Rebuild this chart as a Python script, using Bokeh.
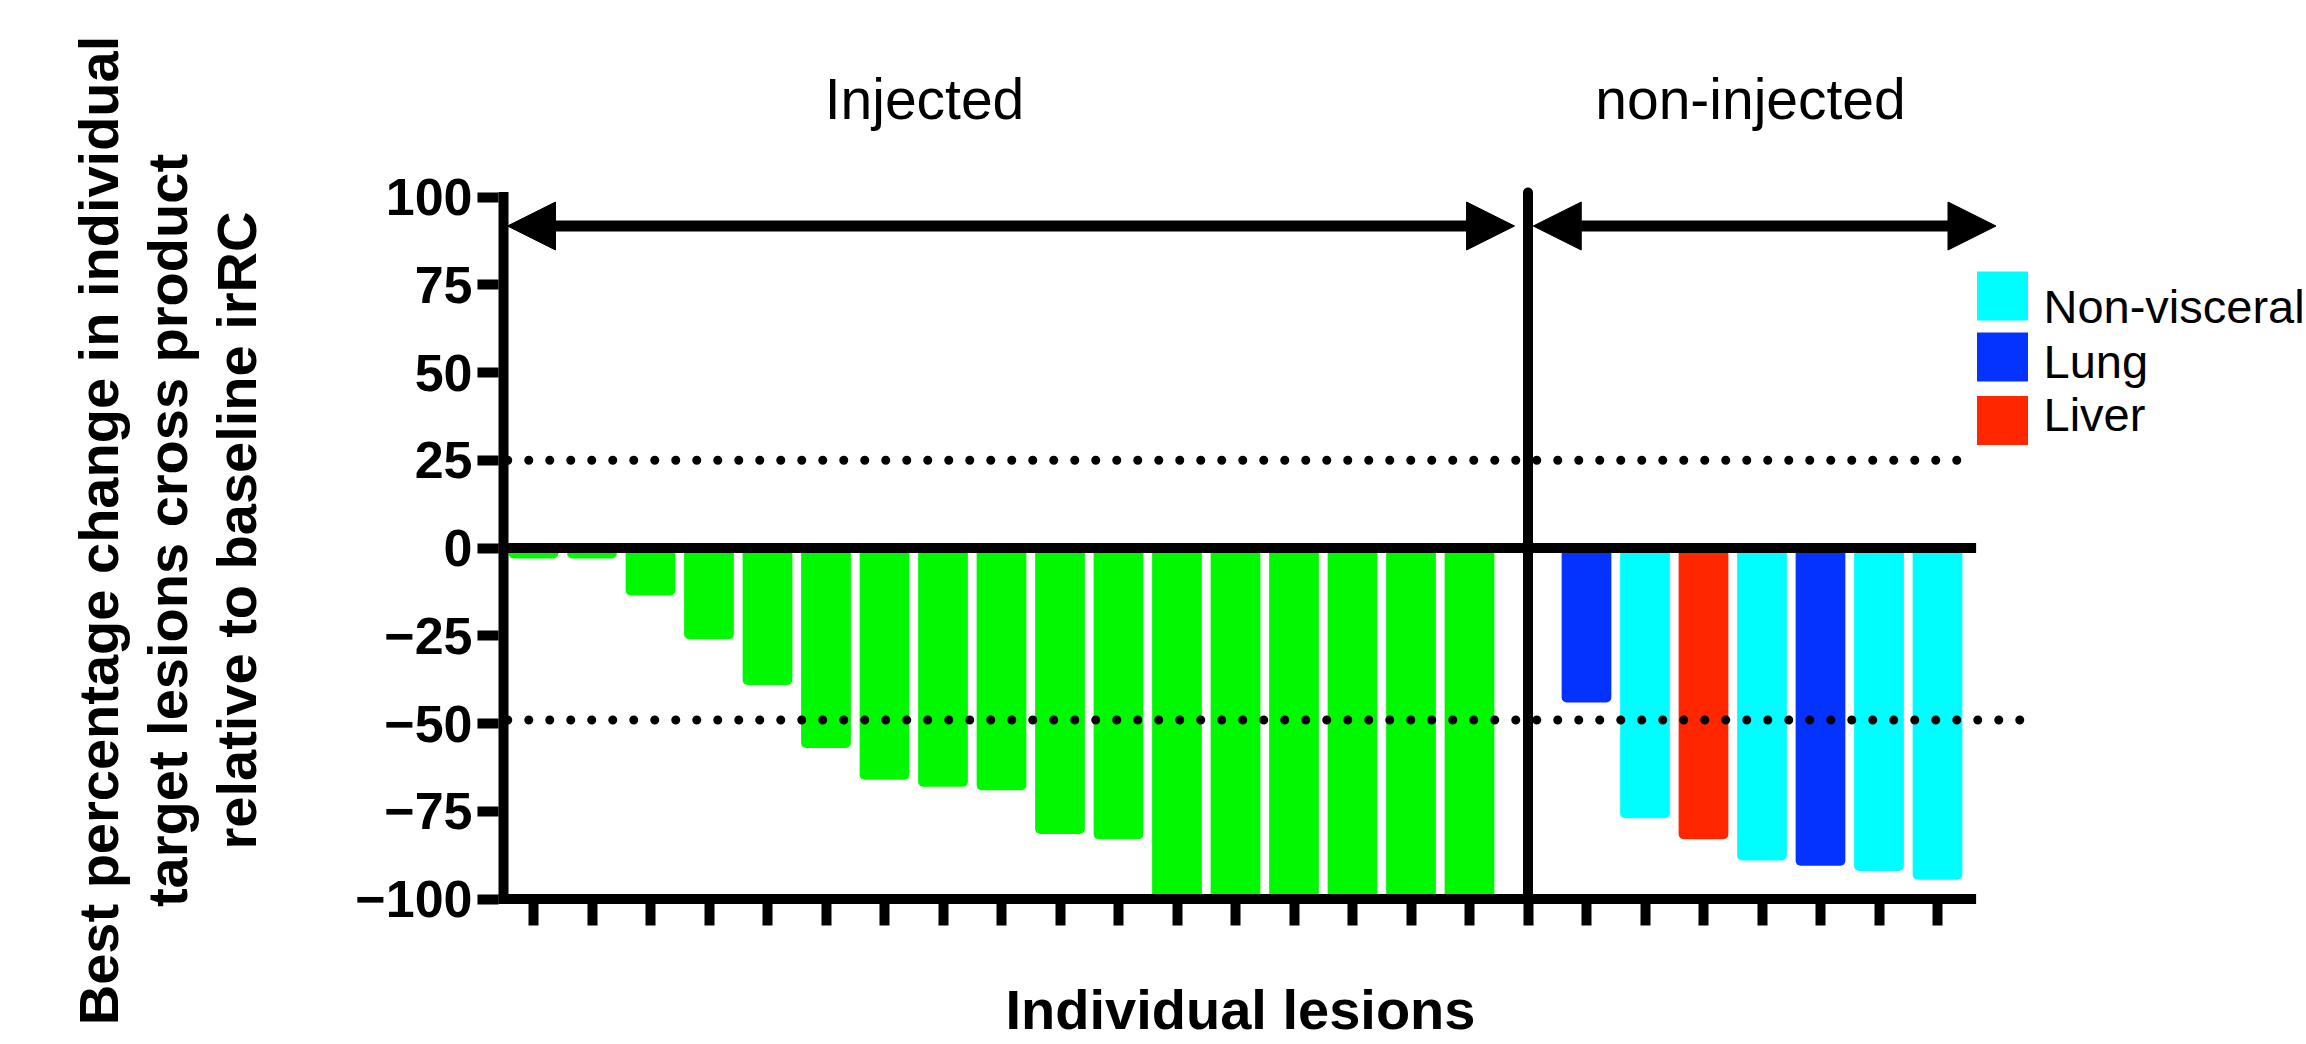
import math
from bokeh.plotting import figure
from bokeh.models import Range1d, FixedTicker, Arrow, NormalHead
from bokeh.core.properties import value
from bokeh.embed import file_html
from bokeh.resources import INLINE

# ---------------- data ----------------
injected_values = [-3, -3, -13.5, -26, -39, -57, -66, -68, -69, -81.5, -83,
                   -100, -100, -100, -100, -100, -100]
noninjected_values = [-44, -77, -83, -89, -90.5, -92, -94.5]
noninjected_sites = ["Lung", "Non-visceral", "Liver", "Non-visceral", "Lung",
                     "Non-visceral", "Non-visceral"]
site_names = ["Non-visceral", "Lung", "Liver"]
site_colors = ["#00FDFF", "#0433FF", "#FF2600"]
injected_color = "#00F900"
y_ticks = [-100, -75, -50, -25, 0, 25, 50, 75, 100]
ref_lines = [25, -49]
ref_line_ends = [25.35, 26.45]
group_labels = ["Injected", "non-injected"]
x_label = "Individual lesions"
y_label_lines = ["Best percentage change in individual",
                 "target lesions cross product",
                 "relative to baseline irRC"]

# ---------------- layout (pixel geometry of the page) ----------------
W, H = 2306, 1044
PX_X, PX_Y = 58.5, 3.51          # pixels per data unit
X1_PX, Y0_PX = 533, 547.5         # pixel of lesion 1 / of value 0


def dx(px):
    return 1 + (px - X1_PX) / PX_X


def dy(px):
    return (Y0_PX - px) / PX_Y


BASE_FIX = 0.335                  # baseline correction, fraction of font size

x_range = Range1d(dx(0), dx(W))
y_range = Range1d(dy(H), dy(0))

inj_x = list(range(1, len(injected_values) + 1))
divider_x = len(injected_values) + 1
non_x = list(range(divider_x + 1, divider_x + 1 + len(noninjected_values)))
non_colors = [site_colors[site_names.index(s)] for s in noninjected_sites]
last_x = non_x[-1]

p = figure(width=W, height=H, x_range=x_range, y_range=y_range, title=None,
           output_backend="svg", toolbar_location=None,
           min_border_left=0, min_border_right=0, min_border_top=0,
           min_border_bottom=0)
p.xgrid.visible = False
p.ygrid.visible = False
p.outline_line_color = None
p.background_fill_color = "white"
p.border_fill_color = "white"

FONT = "Liberation Sans"

# y axis: ticks and labels from the library, pinned at the axis line edge
p.yaxis.fixed_location = dx(498)
p.yaxis.ticker = FixedTicker(ticks=y_ticks)
p.yaxis.axis_line_color = None
p.yaxis.major_tick_in = 0
p.yaxis.major_tick_out = 21
p.yaxis.major_tick_line_width = 10
p.yaxis.minor_tick_line_color = None
p.yaxis.major_label_text_font = FONT
p.yaxis.major_label_text_font_style = "bold"
p.yaxis.major_label_text_font_size = "52px"
p.yaxis.major_label_text_color = "black"
p.yaxis.major_label_standoff = 5

# x axis: ticks only
p.xaxis.fixed_location = dy(903)
p.xaxis.ticker = FixedTicker(ticks=list(range(1, last_x + 1)))
p.xaxis.major_label_overrides = {i: "" for i in range(1, last_x + 1)}
p.xaxis.major_label_text_font_size = "0px"
p.xaxis.axis_line_color = None
p.xaxis.major_tick_in = 0
p.xaxis.major_tick_out = 22
p.xaxis.major_tick_line_width = 10
p.xaxis.minor_tick_line_color = None

# bars
BW = 0.85
p.vbar(x=inj_x, top=0, bottom=injected_values, width=BW,
       fill_color=injected_color, line_color=None, border_radius=(0, 0, 5, 5))
p.vbar(x=non_x, top=0, bottom=noninjected_values, width=BW,
       fill_color=non_colors, line_color=None, border_radius=(0, 0, 5, 5))

# dotted reference lines
p.segment(x0=[0.56] * len(ref_lines), y0=ref_lines, x1=ref_line_ends, y1=ref_lines,
          line_color="black", line_width=9, line_dash="0 21", line_cap="round")

# axis lines, zero line, divider
axis_end = last_x + 0.66
y_axis_x = dx(503)
p.segment(x0=y_axis_x, y0=dy(903), x1=y_axis_x, y1=dy(191.5), line_color="black",
          line_width=10)
p.segment(x0=[dx(498), dx(498)], y0=[0, -100], x1=[axis_end, axis_end], y1=[0, -100],
          line_color="black", line_width=10)
p.segment(x0=divider_x, y0=-100, x1=divider_x, y1=dy(192), line_color="black",
          line_width=10, line_cap="round")

# arrows over each group
ARROW_Y = dy(225.5)
for xs, xe in [(dx(507), divider_x - 0.23), (divider_x + 0.09, last_x + 1.0)]:
    p.add_layout(Arrow(x_start=xs, y_start=ARROW_Y, x_end=xe, y_end=ARROW_Y,
                       line_width=11, line_color="black",
                       start=NormalHead(size=48, fill_color="black", line_color="black"),
                       end=NormalHead(size=48, fill_color="black", line_color="black")))

# group labels
GFS = 57
p.text(x=[dx(924), dx(1750)], y=[dy(118 - BASE_FIX * GFS)] * 2, text=group_labels,
       text_font=value(FONT), text_font_size=f"{GFS}px", text_align="center",
       text_baseline="alphabetic", text_color="black")

# legend (squares + names)
LFS = 47
leg_x = dx(2002)
p.rect(x=[leg_x] * 3, y=[dy(295.5), dy(356.5), dy(420)], width=51, height=49,
       width_units="screen", height_units="screen", fill_color=site_colors,
       line_color=None)
p.text(x=[dx(2043)] * 3, y=[dy(b - BASE_FIX * LFS) for b in (322, 377, 430)],
       text=site_names, text_font=value(FONT), text_font_size=f"{LFS}px",
       text_align="left", text_baseline="alphabetic", text_color="black")

# axis titles
TFS = 56
p.text(x=[dx(1240)], y=[dy(1028 - BASE_FIX * TFS)], text=[x_label],
       text_font=value(FONT), text_font_style="bold", text_font_size=f"{TFS}px",
       text_align="center", text_baseline="alphabetic", text_color="black")
p.text(x=[dx(b - BASE_FIX * TFS) for b in (117, 186, 255)], y=[dy(530)] * 3,
       text=y_label_lines, angle=math.pi / 2,
       text_font=value(FONT), text_font_style="bold", text_font_size=f"{TFS}px",
       text_align="center", text_baseline="alphabetic", text_color="black")

open("out.html", "w").write(file_html(p, INLINE))
